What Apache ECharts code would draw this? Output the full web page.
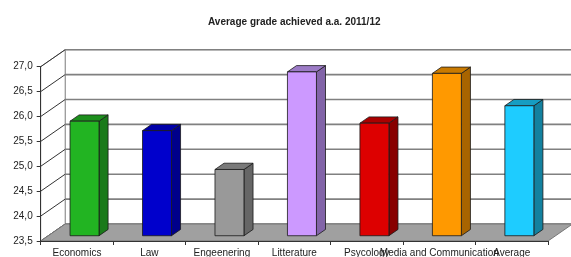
<!DOCTYPE html>
<html>
<head>
<meta charset="utf-8">
<script src="https://cdn.jsdelivr.net/npm/echarts@6/dist/echarts.min.js"></script>
<style>
  html, body { margin: 0; padding: 0; background: #fff; }
  #chart { width: 571px; height: 257px; }
</style>
</head>
<body>
<div id="chart"></div>
<script>
// categorie e voti medi
const categories = ['Economics', 'Law', 'Engeenering', 'Litterature', 'Psycology', 'Media and Communication', 'Average'];
const grades = [25.80, 25.61, 24.83, 26.79, 25.76, 26.76, 26.11];
const yTicks = [23.5, 24.0, 24.5, 25.0, 25.5, 26.0, 26.5, 27.0];

// colori delle facce (fronte, lato, sopra)
const frontColors = ['#22B422', '#0000CC', '#999999', '#CC99FF', '#DD0000', '#FF9900', '#1ECCFF'];
const sideColors = ['#1A7A1A', '#00008A', '#666666', '#8264A8', '#880000', '#A86400', '#13819F'];
const topColors = ['#1D8F1D', '#0000A8', '#7A7A7A', '#9C7BC6', '#AA0000', '#C97A00', '#169DC2'];

// profondita' della prospettiva
const DX = 24.5;
const DY = 17;
const F1 = 0.31;
const F2 = 0.68;

function renderWalls(params, api) {
    var cs = params.coordSys;
    var x0 = cs.x, x1 = cs.x + cs.width;
    var yt = cs.y, yb = cs.y + cs.height;
    var children = [];
    // parete di fondo
    children.push({
        type: 'rect',
        shape: { x: x0 + DX, y: yt - DY, width: cs.width, height: cs.height },
        style: { fill: '#fff', stroke: '#aaa', lineWidth: 1 }
    });
    // parete sinistra
    children.push({
        type: 'polygon',
        shape: { points: [[x0, yt], [x0 + DX, yt - DY], [x0 + DX, yb - DY], [x0, yb]] },
        style: { fill: '#fff', stroke: '#888', lineWidth: 1 }
    });
    yTicks.forEach(function (v) {
        var y = api.coord([0, v])[1];
        children.push({
            type: 'line',
            shape: { x1: x0 + DX, y1: y - DY, x2: x1 + DX, y2: y - DY },
            style: { stroke: '#808080', lineWidth: 1.6 }
        });
        children.push({
            type: 'line',
            shape: { x1: x0, y1: y, x2: x0 + DX, y2: y - DY },
            style: { stroke: '#333', lineWidth: 1 }
        });
    });
    // pavimento
    children.push({
        type: 'polygon',
        shape: { points: [[x0, yb], [x1, yb], [x1 + DX, yb - DY], [x0 + DX, yb - DY]] },
        style: { fill: '#A0A0A0', stroke: '#777', lineWidth: 1 }
    });
    return { type: 'group', children: children };
}

function renderBar(params, api) {
    var i = api.value(0);
    var v = api.value(1);
    var base = api.coord([i, 23.5]);
    var top = api.coord([i, v]);
    var barW = api.size([1, 0])[0] * 0.4;
    var xl = base[0] - barW / 2 + DX * F1;
    var xr = xl + barW;
    var yb = base[1] - DY * F1;
    var yt = top[1] - DY * F1;
    var ddx = DX * (F2 - F1);
    var ddy = DY * (F2 - F1);
    var line = { stroke: '#1a1a1a', lineWidth: 0.8 };
    return {
        type: 'group',
        children: [
            {
                type: 'polygon',
                shape: { points: [[xr, yt], [xr + ddx, yt - ddy], [xr + ddx, yb - ddy], [xr, yb]] },
                style: Object.assign({ fill: sideColors[i] }, line)
            },
            {
                type: 'polygon',
                shape: { points: [[xl, yt], [xr, yt], [xr + ddx, yt - ddy], [xl + ddx, yt - ddy]] },
                style: Object.assign({ fill: topColors[i] }, line)
            },
            {
                type: 'rect',
                shape: { x: xl, y: yt, width: barW, height: yb - yt },
                style: Object.assign({ fill: frontColors[i] }, line)
            }
        ]
    };
}

function drawChart() {
    var dom = document.getElementById('chart');
    var myChart = echarts.init(dom, null, { renderer: 'canvas' });
    var option = {
        animation: false,
        title: {
            text: 'Average grade achieved a.a. 2011/12',
            left: 208,
            top: 17,
            padding: 0,
            textStyle: { fontSize: 10, fontWeight: 'bold', color: '#222', fontFamily: 'Liberation Sans, Arial, sans-serif' }
        },
        grid: { left: 40.7, right: 23, top: 66.7, bottom: 16, containLabel: false, outerBoundsMode: 'none' },
        xAxis: {
            type: 'category',
            data: categories,
            axisLine: { lineStyle: { color: '#333', width: 1 } },
            axisTick: { show: true, length: 4, lineStyle: { color: '#333' } },
            axisLabel: {
                interval: 0,
                hideOverlap: false,
                margin: 7,
                fontSize: 10,
                color: '#222',
                fontFamily: 'Liberation Sans, Arial, sans-serif'
            },
            splitLine: { show: false }
        },
        yAxis: {
            type: 'value',
            min: 23.5,
            max: 27,
            interval: 0.5,
            axisLine: { show: true, lineStyle: { color: '#333', width: 1 } },
            axisTick: { show: true, length: 4, lineStyle: { color: '#333' } },
            axisLabel: {
                margin: 8,
                padding: [4, 0, 0, 0],
                fontSize: 10,
                color: '#222',
                fontFamily: 'Liberation Sans, Arial, sans-serif',
                formatter: function (v) { return v.toFixed(1).replace('.', ','); }
            },
            splitLine: { show: false }
        },
        series: [
            {
                type: 'custom',
                z: -1,
                silent: true,
                renderItem: renderWalls,
                data: [[0, 23.5]]
            },
            {
                type: 'custom',
                z: 3,
                renderItem: renderBar,
                encode: { x: 0, y: 1 },
                data: grades.map(function (g, i) { return [i, g]; })
            }
        ]
    };
    myChart.setOption(option);
    window.addEventListener('resize', myChart.resize);
}

drawChart();
</script>
</body>
</html>
